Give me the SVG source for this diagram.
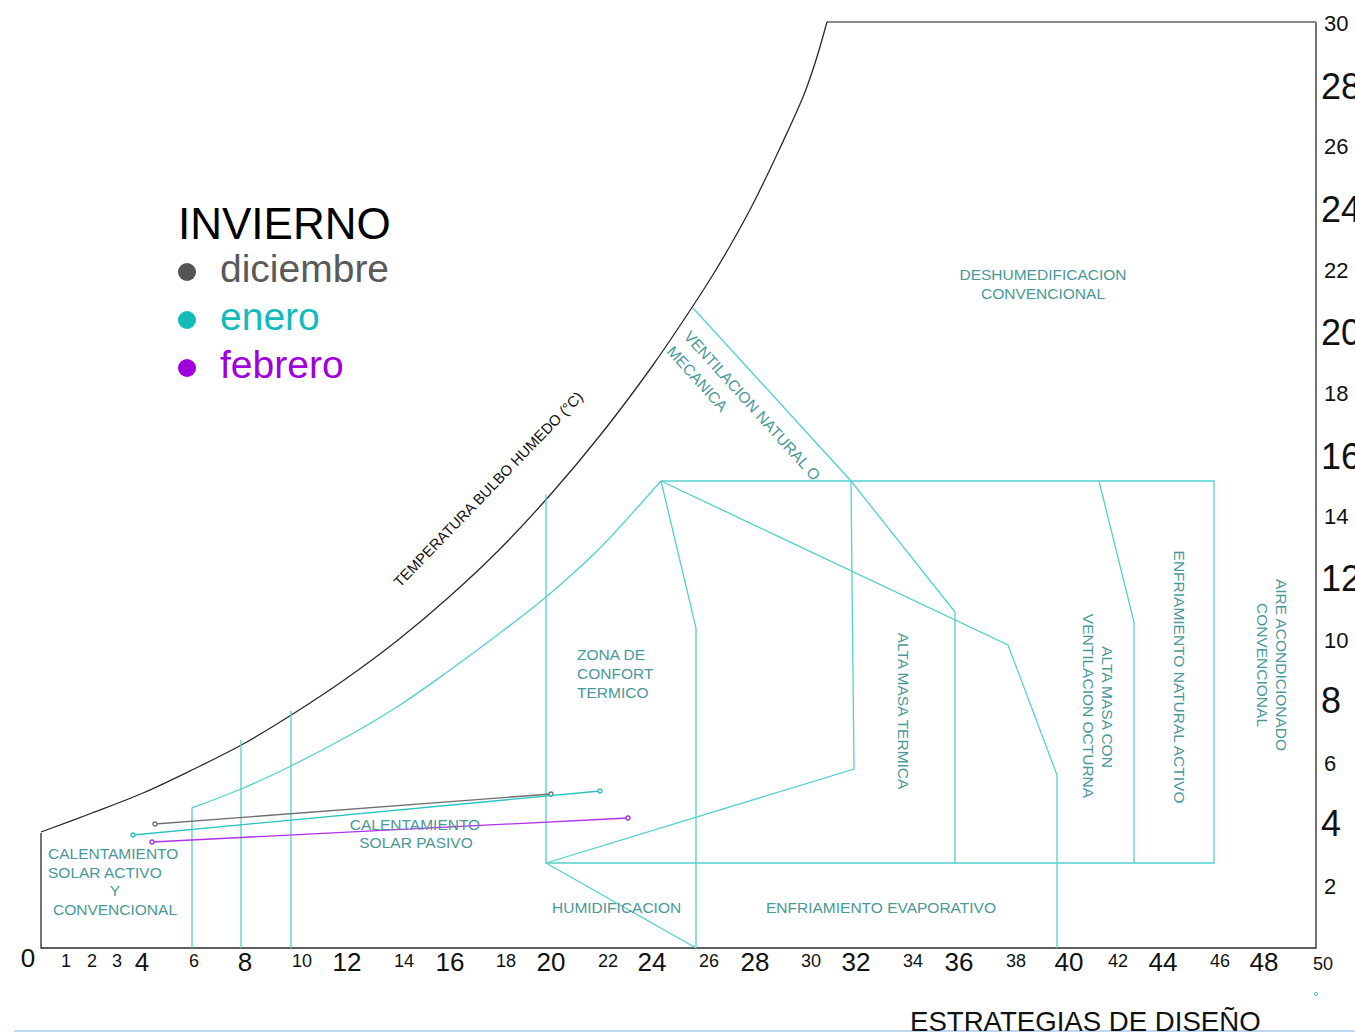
<svg xmlns="http://www.w3.org/2000/svg" width="1355" height="1033" viewBox="0 0 1355 1033">
<style>
.ax{fill:none;stroke:#2a2a2a;stroke-width:1.3}
.cy{fill:none;stroke:#55cfcf;stroke-width:1.3}
.lb{font-family:"Liberation Sans",Arial,sans-serif;font-size:15.5px;fill:#4a9898}
.nb{font-family:"Liberation Sans",Arial,sans-serif;font-size:26px;fill:#111;text-anchor:middle}
.ns{font-family:"Liberation Sans",Arial,sans-serif;font-size:18px;fill:#111;text-anchor:middle}
.rb{font-family:"Liberation Sans",Arial,sans-serif;font-size:36px;fill:#111}
.rs{font-family:"Liberation Sans",Arial,sans-serif;font-size:22px;fill:#111}
.lg{font-family:"Liberation Sans",Arial,sans-serif;font-size:39px}
</style>
<rect width="1355" height="1033" fill="#fff"/>
<g id="axes">
<path class="ax" d="M41,833 V948 H1316 V22"/>
<path d="M827,22 H1316" fill="none" stroke="#888" stroke-width="2"/>
<path id="saturation" class="ax" stroke-width="1.1" d="M41,832 C49.5,828.8 75,819.5 92,813 C109,806.5 126,800.3 143,793 C160,785.7 177,777.3 194,769 C211,760.7 228,752.5 245,743 C262,733.5 279,722.8 296,712 C313,701.2 330,690 347,678 C364,666 381,653.5 398,640 C415,626.5 432,612.2 449,597 C466,581.8 483,566.2 500,549 C517,531.8 534,513.3 551,494 C568,474.7 585,454.5 602,433 C619,411.5 636,389 653,365 C670,341 691.2,308.8 704,289 C716.8,269.2 721.5,260.8 730,246 C738.5,231.2 746.7,216.3 755,200 C763.3,183.7 772,165.2 780,148 C788,130.8 797,111.7 803,97 C809,82.3 812,72.5 816,60 C820,47.5 825.2,28.3 827,22"/>
<line x1="14" y1="1031" x2="1355" y2="1031" stroke="#a9c9ef" stroke-width="1.5"/>
<circle cx="1316" cy="994" r="1.6" fill="none" stroke="#55cfcf" stroke-width="1"/>
</g>
<g id="zones">
<path class="cy" d="M192,948 V808 C200.2,804.8 224.5,796 241,789 C257.5,782 272.8,775 291,766 C309.2,757 331.8,745.2 350,735 C368.2,724.8 383.3,715.8 400,705 C416.7,694.2 433.3,682 450,670 C466.7,658 484,645.2 500,633 C516,620.8 529.3,611.2 546,597 C562.7,582.8 580.8,567.3 600,548 C619.2,528.7 650.8,492.2 661,481"/>
<path class="cy" d="M241,948 V740"/>
<path class="cy" d="M291,948 V711"/>
<path class="cy" d="M546,495 V863 H1214 V481 H661"/>
<path class="cy" d="M661,481 L696,628 V948"/>
<path class="cy" d="M661,481 L1008,645 L1057,775 V948"/>
<path class="cy" d="M851,481 L854,769 L546,863"/>
<path class="cy" d="M546,863 L696,948"/>
<path class="cy" d="M693,308 L851,481 L955,612 V863"/>
<path class="cy" d="M1099,481 L1134,622 V863"/>
</g>
<g id="data">
<g stroke="#707070" fill="#fff" stroke-width="1.3"><line x1="155" y1="824" x2="551" y2="794"/><circle cx="155" cy="824" r="2"/><circle cx="551" cy="794" r="2"/></g>
<g stroke="#2cc2c2" fill="#fff" stroke-width="1.3"><line x1="133" y1="835" x2="600" y2="791"/><circle cx="133" cy="835" r="2"/><circle cx="600" cy="791" r="2"/></g>
<g stroke="#b030e8" fill="#fff" stroke-width="1.3"><line x1="152" y1="842" x2="628" y2="818"/><circle cx="152" cy="842" r="2"/><circle cx="628" cy="818" r="2"/></g>
</g>
<g id="legend">
<text x="178" y="239" font-family="Liberation Sans,Arial,sans-serif" font-size="44" fill="#000">INVIERNO</text>
<circle cx="187" cy="272" r="9" fill="#555"/>
<text class="lg" x="220" y="282" fill="#5a5a5a">diciembre</text>
<circle cx="187" cy="320" r="9" fill="#13baba"/>
<text class="lg" x="220" y="330" fill="#13baba">enero</text>
<circle cx="187" cy="368" r="9" fill="#a000dc"/>
<text class="lg" x="220" y="378" fill="#a000dc">febrero</text>
</g>
<g id="labels">
<text transform="translate(400,588) rotate(-46)" font-family="Liberation Sans,Arial,sans-serif" font-size="14.8" fill="#111">TEMPERATURA BULBO HUMEDO (°C)</text>
<text class="lb" transform="translate(683,337) rotate(48)">VENTILACION NATURAL O</text>
<text class="lb" transform="translate(666,352) rotate(48)">MECANICA</text>
<text class="lb" x="1043" y="280" text-anchor="middle">DESHUMEDIFICACION</text>
<text class="lb" x="1043" y="299" text-anchor="middle">CONVENCIONAL</text>
<text class="lb" x="577" y="660">ZONA DE</text>
<text class="lb" x="577" y="679">CONFORT</text>
<text class="lb" x="577" y="698">TERMICO</text>
<text class="lb" transform="translate(898,711) rotate(90)" text-anchor="middle">ALTA MASA TERMICA</text>
<text class="lb" transform="translate(1102,707) rotate(90)" text-anchor="middle">ALTA MASA CON</text>
<text class="lb" transform="translate(1083,706) rotate(90)" text-anchor="middle">VENTILACION OCTURNA</text>
<text class="lb" transform="translate(1174,677) rotate(90)" text-anchor="middle">ENFRIAMIENTO NATURAL ACTIVO</text>
<text class="lb" transform="translate(1276,665) rotate(90)" text-anchor="middle">AIRE ACONDICIONADO</text>
<text class="lb" transform="translate(1257,665) rotate(90)" text-anchor="middle">CONVENCIONAL</text>
<text class="lb" x="48" y="859">CALENTAMIENTO</text>
<text class="lb" x="48" y="878">SOLAR ACTIVO</text>
<text class="lb" x="115" y="896" text-anchor="middle">Y</text>
<text class="lb" x="53" y="915">CONVENCIONAL</text>
<text class="lb" x="415" y="830" text-anchor="middle">CALENTAMIENTO</text>
<text class="lb" x="416" y="848" text-anchor="middle">SOLAR PASIVO</text>
<text class="lb" x="552" y="913">HUMIDIFICACION</text>
<text class="lb" x="766" y="913">ENFRIAMIENTO EVAPORATIVO</text>
<text x="910" y="1031" font-family="Liberation Sans,Arial,sans-serif" font-size="27.6" fill="#111">ESTRATEGIAS DE DISEÑO</text>
</g>
<g id="x-axis-labels">
<text class="nb" x="28" y="967" font-size="25">0</text>
<text class="ns" x="66" y="967">1</text>
<text class="ns" x="92" y="967">2</text>
<text class="ns" x="117" y="967">3</text>
<text class="nb" x="142" y="971">4</text>
<text class="ns" x="194" y="967">6</text>
<text class="nb" x="245" y="971">8</text>
<text class="ns" x="302" y="967">10</text>
<text class="nb" x="347" y="971">12</text>
<text class="ns" x="404" y="967">14</text>
<text class="nb" x="450" y="971">16</text>
<text class="ns" x="506" y="967">18</text>
<text class="nb" x="551" y="971">20</text>
<text class="ns" x="608" y="967">22</text>
<text class="nb" x="652" y="971">24</text>
<text class="ns" x="709" y="967">26</text>
<text class="nb" x="755" y="971">28</text>
<text class="ns" x="811" y="967">30</text>
<text class="nb" x="856" y="971">32</text>
<text class="ns" x="913" y="967">34</text>
<text class="nb" x="959" y="971">36</text>
<text class="ns" x="1016" y="967">38</text>
<text class="nb" x="1069" y="971">40</text>
<text class="ns" x="1118" y="967">42</text>
<text class="nb" x="1163" y="971">44</text>
<text class="ns" x="1220" y="967">46</text>
<text class="nb" x="1264" y="971">48</text>
<text class="ns" x="1323" y="970" font-size="21">50</text>
</g>
<g id="y-axis-labels">
<text class="rs" x="1324" y="31">30</text>
<text class="rb" x="1321" y="99">28</text>
<text class="rs" x="1324" y="154">26</text>
<text class="rb" x="1321" y="222">24</text>
<text class="rs" x="1324" y="278">22</text>
<text class="rb" x="1321" y="345">20</text>
<text class="rs" x="1324" y="401">18</text>
<text class="rb" x="1321" y="469">16</text>
<text class="rs" x="1324" y="524">14</text>
<text class="rb" x="1321" y="591">12</text>
<text class="rs" x="1324" y="648">10</text>
<text class="rb" x="1321" y="713">8</text>
<text class="rs" x="1324" y="771">6</text>
<text class="rb" x="1321" y="836">4</text>
<text class="rs" x="1324" y="894">2</text>
</g>
</svg>
